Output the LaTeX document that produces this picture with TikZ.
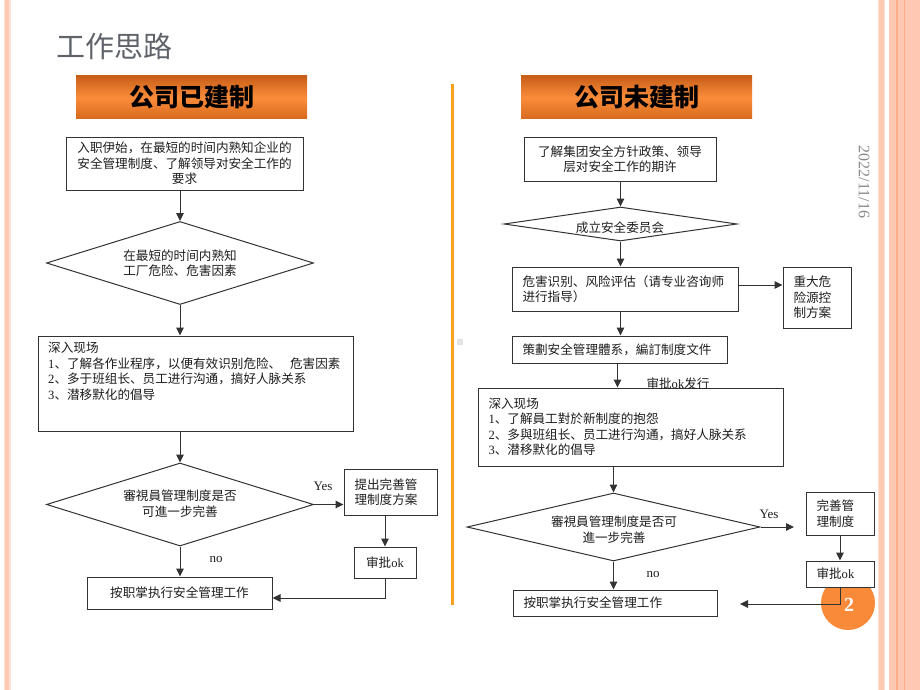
\documentclass[tikz,border=0pt]{standalone}
\usepackage{fontspec}
\setmainfont{Liberation Serif}
\newfontfamily\cjk{Noto Sans CJK SC}
\usetikzlibrary{shapes.geometric,arrows.meta}
\definecolor{linec}{HTML}{333333}
\definecolor{txtc}{HTML}{1E1E1E}
\definecolor{salmon}{HTML}{FFC8B2}
\definecolor{salmondk}{HTML}{FFAE8C}
\definecolor{salmonlt}{HTML}{FFE2D6}
\definecolor{divider}{HTML}{F9A01E}
\definecolor{circ}{HTML}{F98A3A}
\definecolor{titlec}{HTML}{60646A}
\definecolor{datec}{HTML}{8A8A8A}
\definecolor{hdrtop}{RGB}{200,95,25}
\definecolor{hdrmid}{RGB}{250,140,58}
\definecolor{hdrbot}{RGB}{215,105,30}
\tikzset{
  box/.style={draw=linec, line width=1pt, fill=white, inner sep=0pt},
  body/.style={font=\cjk\fontsize{12.6}{15.4}\selectfont, text=txtc},
  cbox/.style={box, body, align=center},
  lbox/.style={box, body, align=left, inner xsep=10.5pt, inner ysep=0pt},
  dia/.style={draw=linec, line width=1pt, fill=white, shape=diamond, inner sep=0pt},
  arr/.style={draw=linec, line width=1pt, -{Triangle[length=8pt,width=7.5pt]}},
  lat/.style={font=\fontsize{13}{13}\selectfont, text=txtc, inner sep=0pt},
  hdr/.style={top color=hdrtop, bottom color=hdrbot, middle color=hdrmid,
    minimum width=231pt, minimum height=43pt, inner sep=0pt,
    font=\cjk\bfseries\fontsize{25}{25}\selectfont, text=black}
}
\begin{document}
\begin{tikzpicture}[x=1pt,y=-1pt]
\path[use as bounding box, fill=white] (0,0) rectangle (920,690);
% side stripes
\fill[salmonlt] (4,0) rectangle (11,690);
\fill[salmon] (5,0) rectangle (9,690);
\fill[salmonlt] (878,0) rectangle (885,690);
\fill[salmon] (879,0) rectangle (884,690);
\fill[salmon] (889,0) rectangle (920,690);
\fill[salmondk] (896,0) rectangle (898,690);
\fill[salmondk] (904,0) rectangle (905,690);
% divider
\fill[divider] (451,84) rectangle (453.5,605);
\fill[gray!22] (457,339) rectangle (463,345);
% title
\node[anchor=west, inner sep=0pt, font=\cjk\fontsize{29}{30}\selectfont, text=titlec] (title) at (56,46) {工作思路};
% date
\node[rotate=-90, inner sep=0pt, font=\fontsize{16}{16}\selectfont, text=datec] (date) at (864,182) {2022/11/16};
% page circle
\fill[circ] (848,603) circle (27);
\node[inner sep=0pt, font=\bfseries\fontsize{20}{20}\selectfont, text=white] (num) at (849,605) {2};
% headers
\node[hdr] (H1) at (191.5,97.5) {公司已建制};
\node[hdr] (H2) at (636.5,97.5) {公司未建制};

% ---------------- left flow ----------------
\node[cbox, minimum width=237pt, minimum height=53pt] (L1) at (184.5,163.5)
  {入职伊始，在最短的时间内熟知企业的\\安全管理制度、了解领导对安全工作的\\要求};
\node[dia, minimum width=267pt, minimum height=83pt] (LD1) at (180,263) {};
\node[body, align=center, inner sep=0pt] (LD1t) at (180,263) {在最短的时间内熟知\\工厂危险、危害因素};
\node[box, minimum width=315pt, minimum height=95pt] (L2) at (195.5,383.5) {};
\node[body, align=left, inner sep=0pt, anchor=north west] (L2t) at (48,342.3)
  {深入现场\\{\rmfamily 1}、了解各作业程序，以便有效识别危险、\hspace{0.7em}危害因素\\{\rmfamily 2}、多于班组长、员工进行沟通，搞好人脉关系\\{\rmfamily 3}、潜移默化的倡导};
\node[dia, minimum width=267pt, minimum height=83pt] (LD2) at (180,504.5) {};
\node[body, align=center, inner sep=0pt] (LD2t) at (180,503.5) {審視員管理制度是否\\可進一步完善};
\node[lbox, text width=72pt, minimum height=46pt] (L3) at (390.5,492) {提出完善管\\理制度方案};
\node[cbox, minimum width=62pt, minimum height=31pt] (L4) at (385,562.5) {审批{\rmfamily ok}};
\node[cbox, minimum width=185pt, minimum height=32pt] (L5) at (179.5,593) {按职掌执行安全管理工作};
\node[lat] (Lyes) at (323,486) {Yes};
\node[lat] (Lno) at (216,559) {no};

\draw[arr] (LD1.north |- L1.south) -- (LD1.north);
\draw[arr] (LD1.south) -- (LD1.south |- L2.north);
\draw[arr] (LD2.north |- L2.south) -- (LD2.north);
\draw[arr] (LD2.south) -- (LD2.south |- L5.north);
\draw[arr] (LD2.east) -- (LD2.east -| L3.west);
\draw[arr] (L4.north |- L3.south) -- (L4.north);
\draw[arr] (L4.south) |- ([yshift=-5pt]L5.east);

% ---------------- right flow ----------------
\node[cbox, minimum width=192pt, minimum height=44pt] (R1) at (620,159)
  {了解集团安全方针政策、领导\\层对安全工作的期许};
\node[dia, minimum width=233pt, minimum height=34pt] (RD1) at (620.5,224) {};
\node[body, inner sep=0pt] (RD1t) at (620,228) {成立安全委员会};
\node[lbox, text width=205pt, minimum height=44pt] (R2) at (625,289)
  {危害识别、风险评估（请专业咨询师\\进行指导）};
\node[lbox, text width=47pt, minimum height=61pt] (R3) at (817,297.5) {重大危\\险源控\\制方案};
\node[lbox, text width=194pt, minimum height=27pt] (R4) at (619.5,349.5) {策劃安全管理體系，編訂制度文件};
\node[lbox, text width=284pt, minimum height=78pt] (R5) at (630.5,427)
  {深入现场\\{\rmfamily 1}、了解員工對於新制度的抱怨\\{\rmfamily 2}、多與班组长、员工进行沟通，搞好人脉关系\\{\rmfamily 3}、潜移默化的倡导};
\node[dia, minimum width=293pt, minimum height=68pt] (RD2) at (613.5,527) {};
\node[body, align=center, inner sep=0pt] (RD2t) at (614,529.5) {審視員管理制度是否可\\進一步完善};
\node[lbox, text width=47pt, minimum height=43pt] (R6) at (840,513.5) {完善管\\理制度};
\node[lbox, text width=47pt, minimum height=26pt] (R7) at (840,574) {审批{\rmfamily ok}};
\node[lbox, text width=183pt, minimum height=26pt] (R8) at (615,603) {按职掌执行安全管理工作};
\node[body, inner sep=0pt] (Rok) at (678,384) {审批{\rmfamily ok}发行};
\node[lat] (Ryes) at (769,514) {Yes};
\node[lat] (Rno) at (653,574) {no};
\coordinate (R6arr) at (794,527);
\coordinate (R8arr) at (740,604);

\draw[arr] (RD1.north |- R1.south) -- (RD1.north);
\draw[arr] (RD1.south) -- (RD1.south |- R2.north);
\draw[arr] ([yshift=4pt]R2.east) -- ([yshift=4pt]R2.east -| R3.west);
\draw[arr] (RD1.south |- R2.south) -- (RD1.south |- R4.north);
\draw[arr] ([xshift=-2pt]R4.south) -- ([xshift=-2pt]R4.south |- R5.north);
\draw[arr] (RD2.north |- R5.south) -- (RD2.north);
\draw[arr] (RD2.south) -- (RD2.south |- R8.north);
\draw[arr] (RD2.east) -- (R6arr);
\draw[arr] (R6.south) -- (R7.north);
\draw[arr] (R7.south) |- (R8arr);
\end{tikzpicture}
\end{document}
